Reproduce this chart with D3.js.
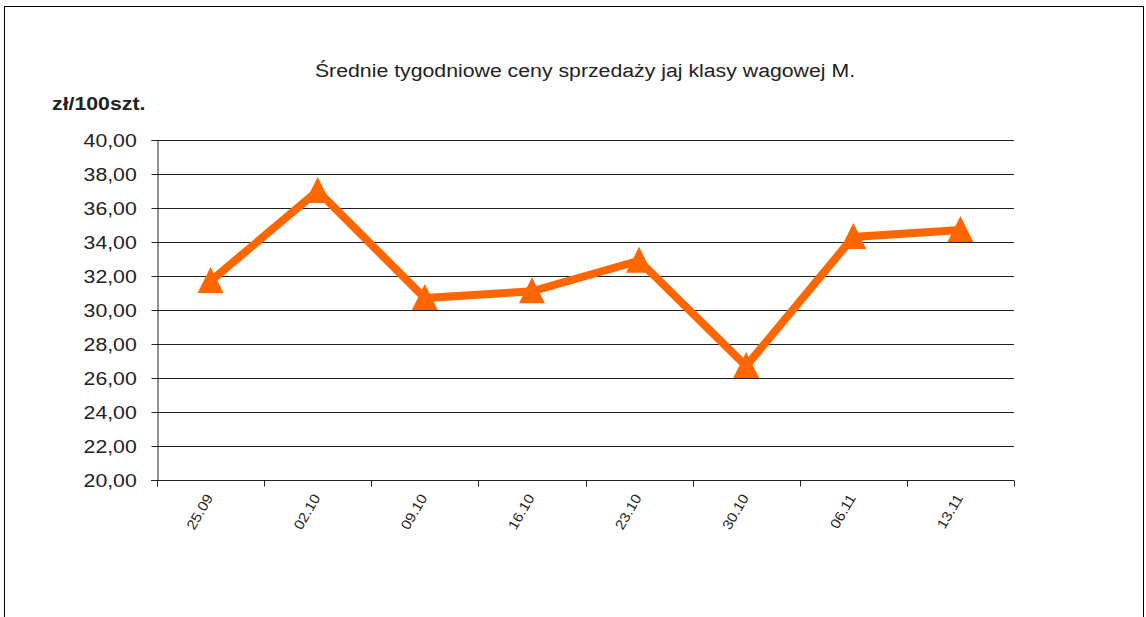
<!DOCTYPE html>
<html>
  <head>
    <meta charset="utf-8">
    <title>Średnie tygodniowe ceny</title>
    <style>
      body { margin: 0; background: #fff; }
      text { font-family: "Liberation Sans", Arial, sans-serif; }
    </style>
  </head>
  <body>
    <svg width="1146" height="617"></svg>

    <script src="https://d3js.org/d3.v7.min.js"></script>
    <script>

      var weeks = ["25.09", "02.10", "09.10", "16.10", "23.10", "30.10", "06.11", "13.11"];
      var prices = [31.7, 37.0, 30.7, 31.1, 32.9, 26.7, 34.3, 34.7];
      var yTicks = [20, 22, 24, 26, 28, 30, 32, 34, 36, 38, 40];

      var data = weeks.map(function (w, i) {
        return { week: w, price: prices[i] };
      });

      var svg = d3.select("svg"),
        margin = { top: 140, right: 132, bottom: 137, left: 157 },
        width = +svg.attr("width"),
        height = +svg.attr("height"),
        stretch = 1.12; // text in the original is a bit wide

      // frame
      svg.append("rect")
        .attr("x", 4.5).attr("y", 6.5)
        .attr("width", 1139).attr("height", 700)
        .attr("fill", "none")
        .attr("stroke", "#000")
        .attr("stroke-width", 1);

      var x = d3.scaleBand()
        .domain(weeks)
        .range([margin.left, width - margin.right]);

      var y = d3.scaleLinear()
        .domain([20, 40])
        .range([height - margin.bottom, margin.top]);

      // gridlines
      svg.append("g")
        .selectAll("line")
        .data(yTicks.slice(1))
        .enter().append("line")
        .attr("x1", margin.left)
        .attr("x2", width - margin.right)
        .attr("y1", function (d) { return Math.round(y(d)) + 0.5; })
        .attr("y2", function (d) { return Math.round(y(d)) + 0.5; })
        .attr("stroke", "#222")
        .attr("stroke-width", 1);

      // y axis
      var yAxis = svg.append("g")
        .attr("transform", "translate(" + (margin.left + 0.5) + ",0)")
        .call(d3.axisLeft(y)
          .tickValues(yTicks)
          .tickSize(6)
          .tickPadding(12.5)
          .tickFormat(function (d) { return d3.format(".2f")(d).replace(".", ","); }));
      yAxis.select(".domain").attr("stroke", "#222");
      yAxis.selectAll(".tick line").attr("stroke", "#222");
      yAxis.selectAll("text")
        .attr("font-size", 19)
        .attr("fill", "#222")
        .attr("dy", "0.36em")
        .attr("transform", "scale(" + stretch + ",1)")
        .style("font-family", "'Liberation Sans', Arial, sans-serif");

      // x axis: ticks on band boundaries
      var xAxis = svg.append("g")
        .attr("transform", "translate(0," + (Math.round(y(20)) + 0.5) + ")");
      xAxis.append("line")
        .attr("x1", margin.left - 6)
        .attr("x2", width - margin.right)
        .attr("stroke", "#222");
      var bounds = weeks.map(function (w) { return x(w); }).concat([x(weeks[weeks.length - 1]) + x.bandwidth()]);
      xAxis.selectAll("line.tk")
        .data(bounds)
        .enter().append("line")
        .attr("class", "tk")
        .attr("x1", function (d) { return Math.round(d) + 0.5; })
        .attr("x2", function (d) { return Math.round(d) + 0.5; })
        .attr("y1", 0).attr("y2", 6)
        .attr("stroke", "#222");
      xAxis.selectAll("text")
        .data(weeks)
        .enter().append("text")
        .attr("transform", function (d) {
          return "translate(" + (x(d) + x.bandwidth() / 2 + 3) + ",17) rotate(-60) scale(1.1,1)";
        })
        .attr("text-anchor", "end")
        .attr("font-size", 14)
        .attr("fill", "#222")
        .text(function (d) { return d; });

      // line
      var line = d3.line()
        .x(function (d) { return x(d.week) + x.bandwidth() / 2; })
        .y(function (d) { return y(d.price); });

      svg.append("path")
        .datum(data)
        .attr("fill", "none")
        .attr("stroke", "#ff6600")
        .attr("stroke-width", 8)
        .attr("stroke-linejoin", "miter")
        .attr("d", line);

      svg.append("g")
        .selectAll("path")
        .data(data)
        .enter().append("path")
        .attr("transform", function (d) {
          return "translate(" + (x(d.week) + x.bandwidth() / 2) + "," + y(d.price) + ")";
        })
        .attr("d", "M0,-14L13,12L-13,12Z")
        .attr("fill", "#ff6600");

      // titles
      svg.append("text")
        .attr("transform", "translate(585,77) scale(" + stretch + ",1)")
        .attr("text-anchor", "middle")
        .attr("font-size", 19)
        .attr("fill", "#222")
        .text("Średnie tygodniowe ceny sprzedaży jaj klasy wagowej M.");

      svg.append("text")
        .attr("transform", "translate(52,110) scale(" + stretch + ",1)")
        .attr("font-size", 19)
        .attr("font-weight", "bold")
        .attr("fill", "#222")
        .text("zł/100szt.");

    </script>
  </body>
</html>
